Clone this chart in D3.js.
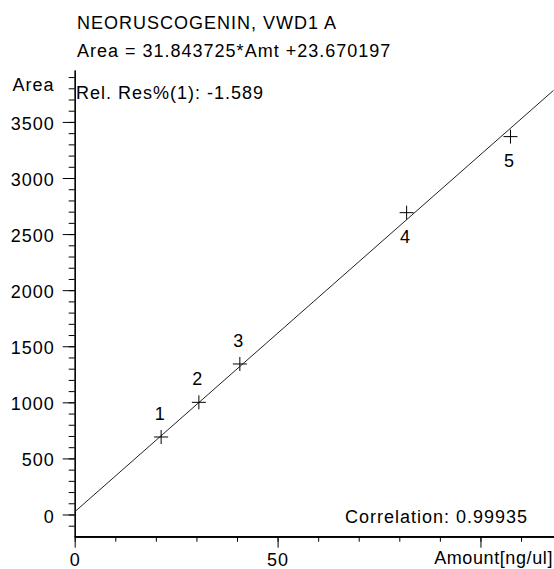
<!DOCTYPE html>
<meta charset="utf-8">
<script src="https://d3js.org/d3.v7.min.js"></script>
<style>
body { margin: 0; background: #fff; }
svg text { font-family: "Liberation Sans", Arial, sans-serif; font-size: 18px; letter-spacing: 1px; fill: #000; }
</style>
<body>
<div id="chart"></div>
<script>
// calibration points
var amounts = [21.3, 30.6, 40.7, 81.8, 107.4];
var areas = [691, 1000, 1342, 2691, 3369];
var pointNames = ["1", "2", "3", "4", "5"];
var labelSide = ["above", "above", "above", "below", "below"];

// fit from the header
var slope = 31.843725, intercept = 23.670197;

var yMajor = [0, 500, 1000, 1500, 2000, 2500, 3000, 3500];
var yMinor = d3.range(-100, 4000, 100);
var xMajor = [0, 50, 100];
var xLabels = ["0", "50", ""];
var xMinor = d3.range(0, 120, 10);

var titleLines = ["NEORUSCOGENIN, VWD1 A", "Area = 31.843725*Amt +23.670197"];

var W = 554, H = 569;
var svg = d3.select("#chart").append("svg")
    .attr("width", W)
    .attr("height", H);

var x = d3.scaleLinear().domain([0, 118]).range([74.7, 553.5]);
var y = d3.scaleLinear().domain([-198, 3963]).range([536.7, 70]);

// y axis: minor then major
svg.append("g")
    .attr("transform", "translate(" + x(0) + ",0)")
    .call(d3.axisLeft(y).tickValues(yMinor).tickSize(6).tickFormat("").tickSizeOuter(0));
svg.append("g")
    .attr("transform", "translate(" + x(0) + ",0)")
    .call(d3.axisLeft(y).tickValues(yMajor).tickSize(12).tickPadding(8)
        .tickFormat(d3.format("d")).tickSizeOuter(0))
    .call(function(g) { g.selectAll("text").attr("dy", "0.42em"); });

// x axis
svg.append("g")
    .attr("transform", "translate(0," + y.range()[0] + ")")
    .call(d3.axisBottom(x).tickValues(xMinor).tickSize(5).tickFormat("").tickSizeOuter(0));
svg.append("g")
    .attr("transform", "translate(0," + y.range()[0] + ")")
    .call(d3.axisBottom(x).tickValues(xMajor).tickSize(11).tickPadding(6)
        .tickFormat(function(d, i) { return xLabels[i]; }).tickSizeOuter(0));

svg.selectAll(".domain").attr("stroke", "#000").attr("stroke-width", 1.2);
svg.selectAll(".tick line").attr("stroke", "#000");
svg.selectAll(".tick text").style("font-size", "18px").style("font-family", "Liberation Sans, Arial, sans-serif");

// extend x axis line to the right edge
svg.append("line")
    .attr("x1", x(0)).attr("x2", W)
    .attr("y1", y.range()[0]).attr("y2", y.range()[0])
    .attr("stroke", "#000").attr("stroke-width", 1.2);

// regression line
var xEnd = x.domain()[1];
svg.append("line")
    .attr("x1", x(0)).attr("y1", y(intercept))
    .attr("x2", x(xEnd)).attr("y2", y(slope * xEnd + intercept))
    .attr("stroke", "#222")
    .attr("stroke-width", 1);

// points as crosses
var pts = amounts.map(function(a, i) { return {a: a, v: areas[i], name: pointNames[i], side: labelSide[i]}; });
var arm = 7;
var cross = svg.selectAll("g.pt").data(pts).enter().append("g")
    .attr("class", "pt")
    .attr("transform", function(d) { return "translate(" + x(d.a) + "," + y(d.v) + ")"; });
cross.append("line").attr("x1", -arm).attr("x2", arm).attr("stroke", "#000");
cross.append("line").attr("y1", -arm).attr("y2", arm).attr("stroke", "#000");
cross.append("text")
    .attr("text-anchor", "middle")
    .attr("x", -1)
    .attr("y", function(d) { return d.side == "above" ? -17 : 30.5; })
    .text(function(d) { return d.name; });

// titles
svg.selectAll("text.title").data(titleLines).enter().append("text")
    .attr("class", "title")
    .attr("x", 77)
    .attr("y", function(d, i) { return 29.3 + i * 27.4; })
    .text(function(d) { return d; });

svg.append("text").attr("x", 12.5).attr("y", 91).text("Area");
svg.append("text").attr("x", 76).attr("y", 99).text("Rel. Res%(1): -1.589");
svg.append("text").attr("x", 528).attr("y", 523).attr("text-anchor", "end").text("Correlation: 0.99935");
svg.append("text").attr("x", 553).attr("y", 564).attr("text-anchor", "end")
    .style("letter-spacing", "0.6px").text("Amount[ng/ul]");
</script>
</body>
